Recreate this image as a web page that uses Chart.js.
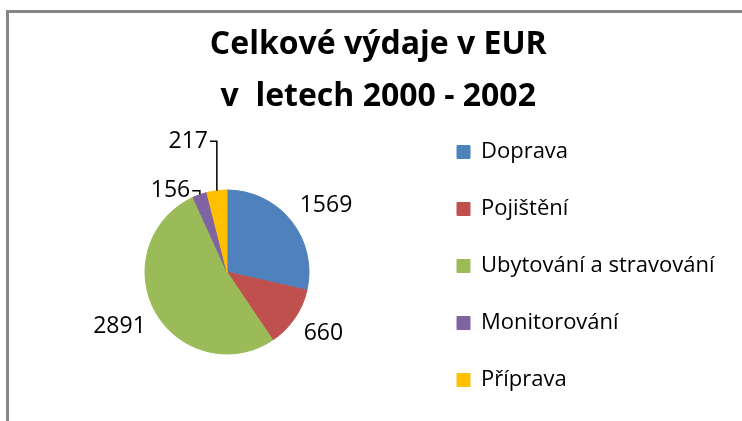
<!DOCTYPE html>
<html>
<head>
<meta charset="utf-8">
<script src="https://cdn.jsdelivr.net/npm/chart.js@4"></script>
<style>
  html, body { margin: 0; padding: 0; overflow: hidden; background: #fff; }
  /* grey frame of the original chart, only left and top edges are visible */
  .frame { position: absolute; left: 6px; top: 10px; width: 900px; height: 600px;
           border-left: 3px solid #868686; border-top: 3px solid #868686; }
  .wrap { position: absolute; left: 0; top: 0; width: 762px; height: 438px; }
</style>
</head>
<body>
<div class="frame"></div>
<div class="wrap"><canvas id="pieChart"></canvas></div>
<script>
const categories = ["Doprava", "Pojištění", "Ubytování a stravování", "Monitorování", "Příprava"];
const expenses = [1569, 660, 2891, 156, 217];
const sliceColors = ["#4F81BD", "#C0504D", "#9BBB59", "#8064A2", "#FFC000"];
const titleLines = ["Celkové výdaje v EUR", "v  letech 2000 - 2002"];

const fontFamily = '"Open Sans", "DejaVu Sans", sans-serif';
const legendSize = 22;
const legendPad = 35;
const legendBox = 13;

// measure the longest legend entry so the legend lands where the original has it
const measure = document.createElement("canvas").getContext("2d");
measure.font = legendSize + "px " + fontFamily;
const longest = Math.max(...categories.map(t => measure.measureText(t).width));
const legendLeft = 457 - legendPad;
const legendWidth = legendPad + legendBox + legendSize / 2 + longest + 10;
const padRight = 762 - legendLeft - legendWidth;
const padLeft = 2 * 227 - legendLeft; // pie centre x

// value labels around the pie, small slices get a leader line
const sliceLabels = {
    id: "sliceLabels",
    afterDatasetsDraw(chart, args, opts) {
        const ctx = chart.ctx;
        const meta = chart.getDatasetMeta(0);
        ctx.save();
        ctx.font = opts.size + "px " + fontFamily;
        ctx.fillStyle = "#000";
        ctx.strokeStyle = "#000";
        ctx.lineWidth = 1.5;
        ctx.textBaseline = "middle";
        ctx.textAlign = "left";
        meta.data.forEach((arc, i) => {
            const p = arc.getProps(["x", "y", "startAngle", "endAngle", "outerRadius"], true);
            const mid = (p.startAngle + p.endAngle) / 2;
            const cos = Math.cos(mid), sin = Math.sin(mid);
            const text = String(expenses[i]);
            const w = ctx.measureText(text).width;
            const d = p.outerRadius + opts.gap;
            const ax = p.x + cos * d, ay = p.y + sin * d;
            let left = cos >= 0 ? ax : ax - w;
            let cy = sin >= 0 ? ay + opts.h / 2 : ay - opts.h / 2;
            const shift = opts.shift[i];
            if (shift) {
                left += shift[0];
                cy += shift[1];
                const ex = p.x + cos * p.outerRadius, ey = p.y + sin * p.outerRadius;
                ctx.beginPath();
                ctx.moveTo(left + w + 2, cy);
                ctx.lineTo(ex, cy);
                ctx.lineTo(ex, ey);
                ctx.stroke();
            }
            ctx.fillText(text, left, cy);
        });
        ctx.restore();
    }
};

new Chart(document.getElementById("pieChart"), {
    type: "pie",
    data: {
        labels: categories,
        datasets: [{
            data: expenses,
            backgroundColor: sliceColors,
            borderColor: sliceColors,
            borderWidth: 1,
            radius: 82
        }]
    },
    options: {
        responsive: true,
        maintainAspectRatio: false,
        animation: false,
        events: [],
        layout: {
            padding: { left: padLeft, right: padRight, top: 0, bottom: 0 }
        },
        plugins: {
            title: {
                display: true,
                text: titleLines,
                color: "#000",
                font: { family: fontFamily, size: 32, weight: "bold", lineHeight: 52 / 32 },
                padding: { top: 18.6, bottom: -16.6 }
            },
            legend: {
                position: "right",
                align: "start",
                fullSize: false,
                labels: {
                    color: "#000",
                    boxWidth: legendBox,
                    boxHeight: legendBox,
                    padding: legendPad,
                    font: { family: fontFamily, size: legendSize }
                }
            },
            tooltip: { enabled: false },
            sliceLabels: {
                size: 23,
                gap: 11,
                h: 18,
                shift: [null, null, null, [-6, 15.5], [-7.5, -29.5]]
            }
        }
    },
    plugins: [sliceLabels]
});
</script>
</body>
</html>
